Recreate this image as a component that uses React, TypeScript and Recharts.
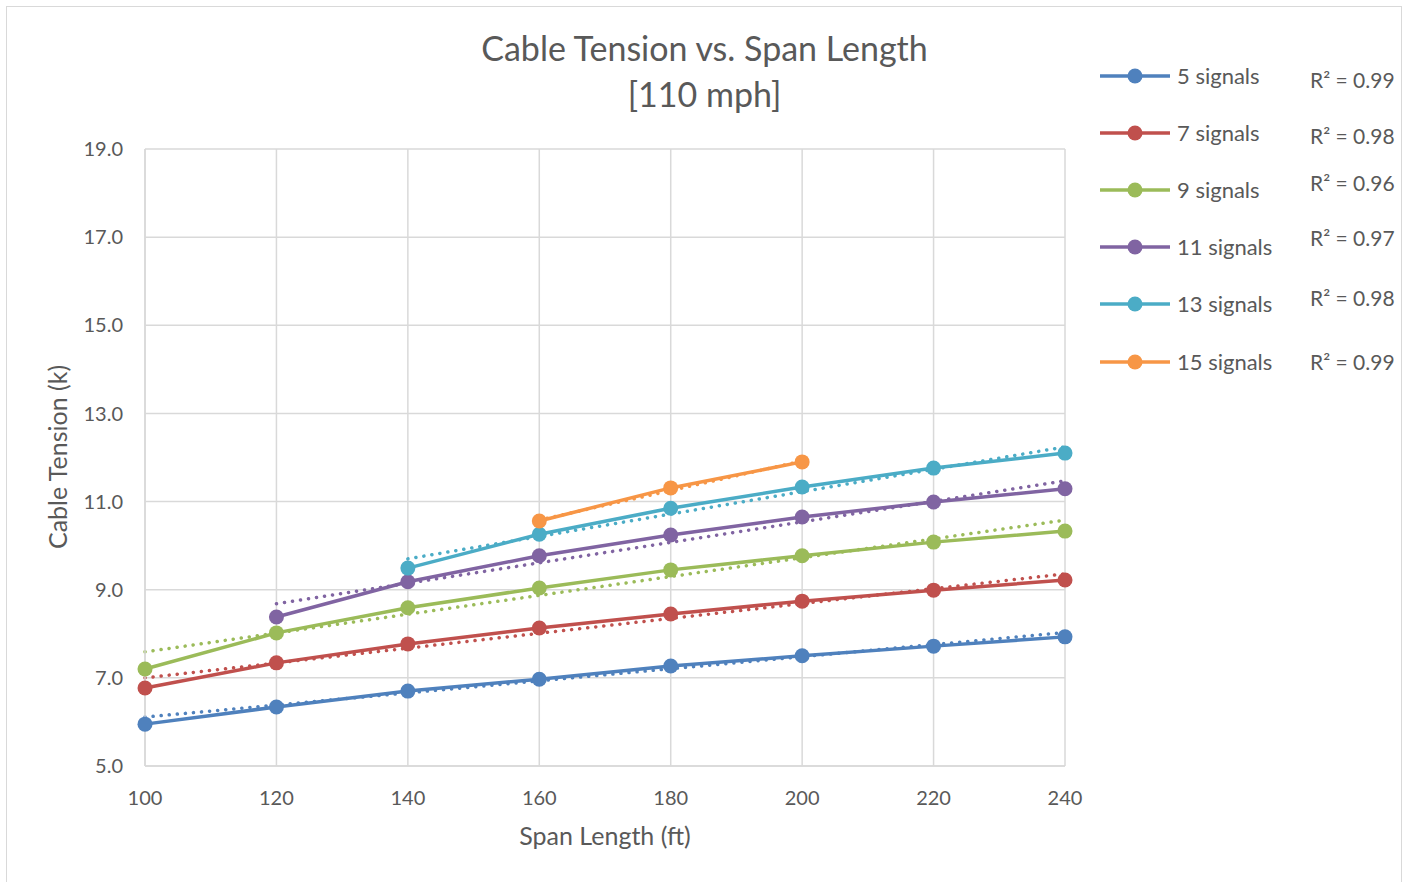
import { CartesianGrid, Line, LineChart, XAxis, YAxis } from "recharts";

// span lengths (ft)
const spans = [100, 120, 140, 160, 180, 200, 220, 240];

// cable tension (k) per signal count, null where not tested
const s5 = [5.95, 6.34, 6.7, 6.97, 7.27, 7.5, 7.72, 7.93];
const s7 = [6.77, 7.34, 7.77, 8.13, 8.45, 8.74, 8.99, 9.22];
const s9 = [7.2, 8.02, 8.59, 9.04, 9.45, 9.77, 10.08, 10.33];
const s11 = [null, 8.38, 9.18, 9.77, 10.24, 10.65, 10.99, 11.29];
const s13 = [null, null, 9.49, 10.26, 10.85, 11.33, 11.76, 12.1];
const s15 = [null, null, null, 10.56, 11.31, 11.9, null, null];

const seriesNames = ["5 signals", "7 signals", "9 signals", "11 signals", "13 signals", "15 signals"];
const seriesKeys = ["s5", "s7", "s9", "s11", "s13", "s15"];
const seriesColors = ["#4F81BD", "#C0504D", "#9BBB59", "#8064A2", "#4BACC6", "#F79646"];
const rSquared = ["0.99", "0.98", "0.96", "0.97", "0.98", "0.99"];

// linear trendline end points
const trendStartX = [100, 100, 100, 120, 140, 160];
const trendEndX = [240, 240, 240, 240, 240, 200];
const trendStartY = [6.11, 7.0, 7.59, 8.68, 9.7, 10.58];
const trendEndY = [8.03, 9.36, 10.58, 11.47, 12.24, 11.92];

const yTicks = [5, 7, 9, 11, 13, 15, 17, 19];

const allSeries = [s5, s7, s9, s11, s13, s15];

const chartData = spans.map((x, i) => {
  const row: Record<string, number | null> = { x };
  seriesKeys.forEach((k, j) => {
    row[k] = allSeries[j][i];
  });
  return row;
});

const trendData = seriesKeys.map((_, j) => [
  { x: trendStartX[j], t: trendStartY[j] },
  { x: trendEndX[j], t: trendEndY[j] },
]);

const FONT = "Lato, 'Open Sans', sans-serif";
const TEXT = "#595959";
const GRID = "#D9D9D9";

const legendRowY = [76, 133, 190, 247, 304, 362];
const rSquaredY = [81, 137, 184, 239, 299, 363];

const LegendBox = () => (
  <svg width={309} height={340} style={{ position: "absolute", left: 1090, top: 50 }}>
    {seriesNames.map((name, i) => {
      const y = legendRowY[i] - 50;
      return (
        <g key={name}>
          <line x1={10} x2={80} y1={y} y2={y} stroke={seriesColors[i]} strokeWidth={3.5} />
          <circle cx={45} cy={y} r={7.5} fill={seriesColors[i]} />
          <text x={87} y={y} dy="0.35em" fontSize={22} fill={TEXT} fontFamily={FONT}>
            {name}
          </text>
          <text x={220} y={rSquaredY[i] - 50} dy="0.35em" fontSize={21} fill={TEXT} fontFamily={FONT}>
            R² = {rSquared[i]}
          </text>
        </g>
      );
    })}
  </svg>
);

const App = () => {
  return (
    <div style={{ position: "absolute", left: 0, top: 0, width: 1409, height: 882, background: "#fff", fontFamily: FONT }}>
      <div
        style={{
          position: "absolute",
          left: 6,
          top: 6,
          width: 1396,
          height: 900,
          border: `1px solid ${GRID}`,
          boxSizing: "border-box",
        }}
      />
      <div
        style={{
          position: "absolute",
          left: 0,
          top: 25,
          width: 1409,
          textAlign: "center",
          color: TEXT,
          fontSize: 34,
          lineHeight: "46px",
        }}
      >
        Cable Tension vs. Span Length
        <br />
        [110 mph]
      </div>
      <div
        style={{
          position: "absolute",
          left: 145,
          width: 920,
          top: 820,
          textAlign: "center",
          color: TEXT,
          fontSize: 25,
        }}
      >
        Span Length (ft)
      </div>
      <div
        style={{
          position: "absolute",
          left: 57,
          top: 457,
          transform: "translate(-50%, -50%) rotate(-90deg)",
          whiteSpace: "nowrap",
          color: TEXT,
          fontSize: 25,
        }}
      >
        Cable Tension (k)
      </div>
      <LineChart
        width={1409}
        height={882}
        data={chartData}
        margin={{ top: 149, right: 344, left: 45, bottom: 46 }}
        style={{ position: "absolute", left: 0, top: 0 }}
      >
        <CartesianGrid stroke={GRID} strokeWidth={1.5} />
        <XAxis
          dataKey="x"
          type="number"
          domain={[100, 240]}
          ticks={spans}
          height={70}
          stroke={GRID}
          strokeWidth={1.5}
          tickLine={false}
          tickSize={0}
          tickMargin={25}
          tick={{ fill: TEXT, fontSize: 20, fontFamily: FONT }}
          allowDuplicatedCategory={false}
        />
        <YAxis
          type="number"
          domain={[5, 19]}
          ticks={yTicks}
          width={100}
          stroke={GRID}
          strokeWidth={1.5}
          tickLine={false}
          tickSize={0}
          tickMargin={22}
          tickFormatter={(v: number) => v.toFixed(1)}
          tick={{ fill: TEXT, fontSize: 20, fontFamily: FONT }}
        />
        {seriesKeys.map((k, i) => (
          <Line
            key={k}
            dataKey={k}
            name={seriesNames[i]}
            stroke={seriesColors[i]}
            strokeWidth={3.5}
            dot={{ r: 7.5, fill: seriesColors[i], stroke: seriesColors[i], strokeWidth: 0 }}
            activeDot={false}
            isAnimationActive={false}
          />
        ))}
        {seriesKeys.map((k, i) => (
          <Line
            key={`${k}-trend`}
            data={trendData[i]}
            dataKey="t"
            stroke={seriesColors[i]}
            strokeWidth={3.5}
            strokeDasharray="0.1 8"
            strokeLinecap="round"
            dot={false}
            activeDot={false}
            isAnimationActive={false}
          />
        ))}
      </LineChart>
      <LegendBox />
    </div>
  );
};

export default App;
